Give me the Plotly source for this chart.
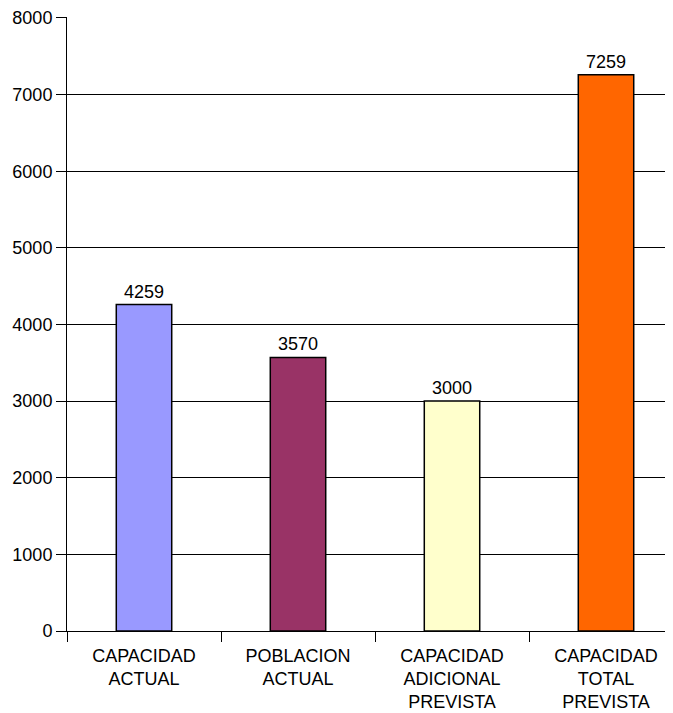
import plotly.graph_objects as go

categories = ["CAPACIDAD<br>ACTUAL", "POBLACION<br>ACTUAL", "CAPACIDAD<br>ADICIONAL<br>PREVISTA", "CAPACIDAD<br>TOTAL<br>PREVISTA"]
values = [4259, 3570, 3000, 7259]
colors = ["#9999FF", "#993366", "#FFFFCC", "#FF6600"]
y_ticks = [0, 1000, 2000, 3000, 4000, 5000, 6000, 7000, 8000]

x = list(range(len(categories)))

fig = go.Figure(go.Bar(
    x=x, y=values, width=0.36,
    marker=dict(color=colors, line=dict(color="#000000", width=1.5)),
    text=[str(v) for v in values], textposition="outside",
    textfont=dict(family="Liberation Sans, Arial", size=18, color="#000000"),
    cliponaxis=False,
))

# page body has an 8px default margin, so the figure is sized/offset accordingly
fig.update_layout(
    width=665, height=705,
    margin=dict(l=59, r=0, t=7, b=82),
    paper_bgcolor="white", plot_bgcolor="white",
    font=dict(family="Liberation Sans, Arial", size=18, color="#000000"),
    showlegend=False,
    xaxis=dict(
        range=[-0.5, 3.435],
        tickvals=x, ticktext=categories,
        ticks="outside", ticklen=8, tickcolor="rgba(0,0,0,0)",
        showline=True, linecolor="#000000", linewidth=1,
        showgrid=False, zeroline=False,
        minor=dict(tickvals=[-0.5, 0.5, 1.5, 2.5, 3.5], ticks="outside", ticklen=10, tickcolor="#000000", tickwidth=1, showgrid=False),
    ),
    yaxis=dict(
        range=[0, 8012],
        tickvals=y_ticks,
        ticks="outside", ticklen=10, tickcolor="#000000",
        ticklabeloverflow="allow",
        showline=True, linecolor="#000000", linewidth=1,
        showgrid=True, gridcolor="#000000", gridwidth=1,
        zeroline=False,
    ),
)

fig.write_html("out.html")
